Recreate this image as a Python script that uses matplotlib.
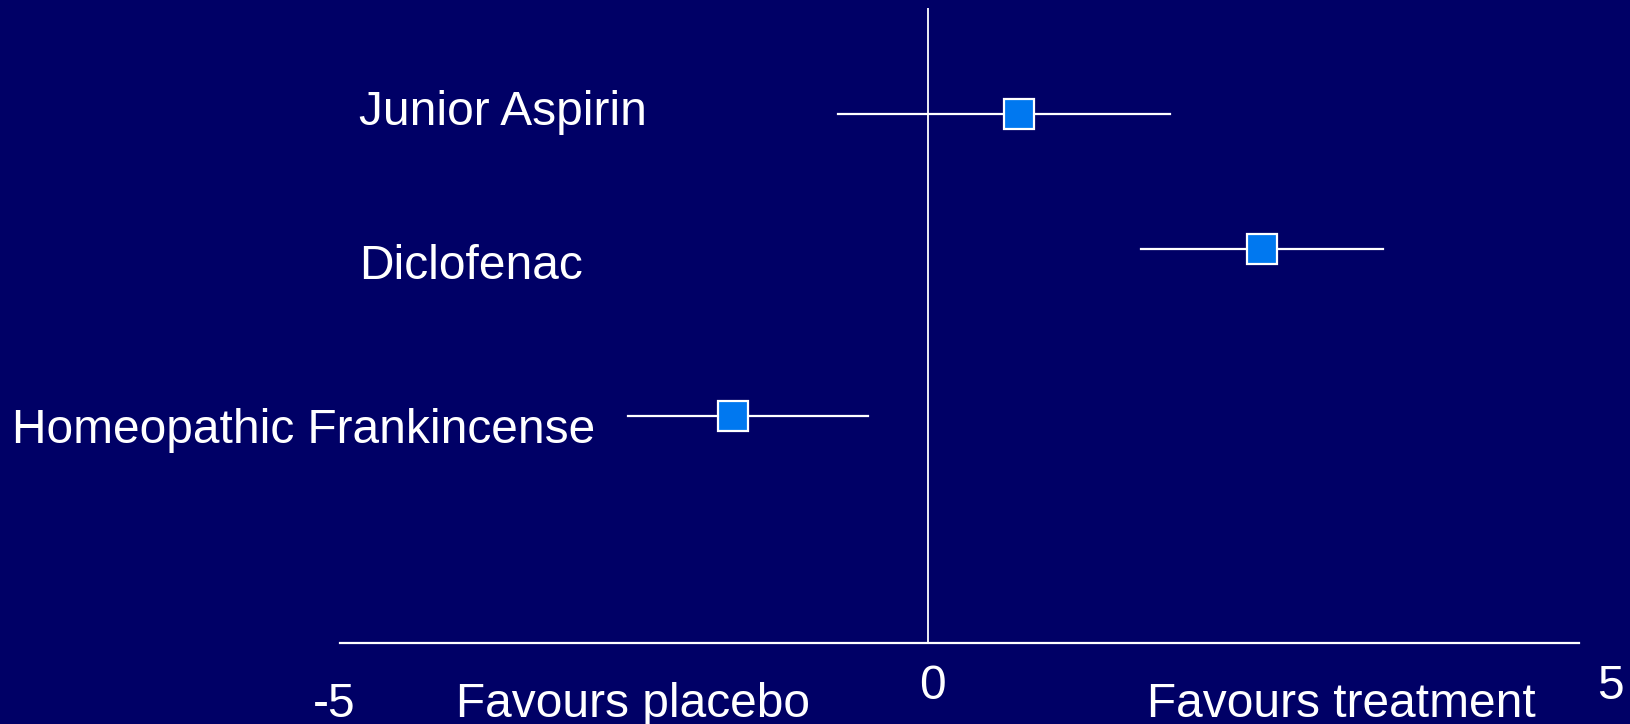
import matplotlib.pyplot as plt

# forest plot values (effect, lower CI, upper CI)
treatments = ["Junior Aspirin", "Diclofenac", "Homeopathic Frankincense"]
effect = [0.78, 2.84, -1.66]
ci_low = [-0.76, 1.81, -2.55]
ci_high = [2.06, 3.87, -0.51]
row_y = [8.33, 6.2, 3.57]

bg = "#000066"
box = "#0078F0"

W, H = 1630, 724
fig = plt.figure(figsize=(W / 100, H / 100), dpi=100, facecolor=bg)
ax = fig.add_axes([340 / W, 1 - 643 / H, (1579 - 340) / W, (643 - 8) / H])
ax.set_facecolor(bg)
ax.set_xlim(-5, 5.54)
ax.set_ylim(0, 10)

for s in ["top", "right", "left"]:
    ax.spines[s].set_visible(False)
ax.spines["bottom"].set_color("white")
ax.spines["bottom"].set_linewidth(1.6)
ax.set_xticks([])
ax.set_yticks([])

ax.axvline(0, color="white", lw=1.3, zorder=1)

for i in range(len(treatments)):
    ax.plot([ci_low[i], ci_high[i]], [row_y[i], row_y[i]], color="white", lw=1.6, zorder=2)
    ax.plot(effect[i], row_y[i], marker="s", markersize=21, markerfacecolor=box,
            markeredgecolor="white", markeredgewidth=1.6, zorder=3)

font = dict(family="Liberation Sans", size=34.5, color="white")

# treatment names (slide text boxes)
label_x = [359, 359, 12]
label_base = [125, 279, 443]
for name, lx, ly in zip(treatments, label_x, label_base):
    fig.text(lx / W, 1 - ly / H, name, ha="left", va="baseline", **font)

# axis annotations
fig.text(334 / W, 1 - 717 / H, "-5", ha="center", va="baseline", **font)
fig.text(932 / W, 1 - 699 / H, "0", ha="center", va="baseline", **font)
fig.text(1610 / W, 1 - 699 / H, "5", ha="center", va="baseline", **font)
fig.text(456 / W, 1 - 717 / H, "Favours placebo", ha="left", va="baseline", **font)
fig.text(1147 / W, 1 - 717 / H, "Favours treatment", ha="left", va="baseline", **font)

fig.savefig("out.png", dpi=100, facecolor=bg)
